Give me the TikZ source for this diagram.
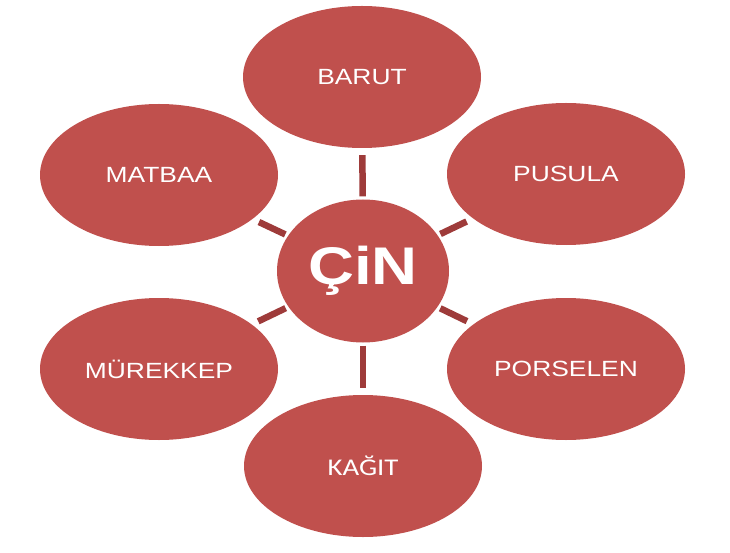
\documentclass[tikz,border=0pt]{standalone}
\usepackage{fontspec}
\usepackage{tikz}
\usetikzlibrary{positioning,shapes.geometric}
\newfontfamily\leaffont[FakeStretch=1.2]{Liberation Sans}
\newfontfamily\kagitfont[FakeStretch=1.2]{Carlito}
\definecolor{petal}{HTML}{C0504D}
\definecolor{stem}{HTML}{9E3B3A}
\begin{document}
\begin{tikzpicture}[
x=1pt, y=-1pt, node distance=194pt,
leaf/.style={ellipse, fill=petal, text=white, inner sep=0pt, minimum width=238pt, minimum height=142pt, font=\leaffont\fontsize{22}{26}\selectfont},
hub/.style={ellipse, fill=petal, text=white, inner sep=0pt, minimum width=172pt, minimum height=143pt, font=\leaffont\bfseries\fontsize{53}{60}\selectfont},
link/.style={draw=stem, line width=6.5pt, shorten <=3pt, shorten >=7pt}
]
\useasboundingbox (0,0) rectangle (730,553);
%Nodes
\node[hub]       (cin)      at (363,271)                              {ÇiN};
\node[leaf]      (barut)    [above of=cin, xshift=-1pt]               {BARUT};
\node[leaf]      (kagit)    [below of=cin, yshift=-1pt, font=\kagitfont\fontsize{24}{28}\selectfont] {KAĞIT};
\node[leaf]      (matbaa)   [left of=cin, xshift=-10pt, yshift=96pt]  {MATBAA};
\node[leaf]      (pusula)   [right of=cin, xshift=9pt, yshift=97pt]   {PUSULA};
\node[leaf]      (murekkep) [left of=cin, xshift=-10pt, yshift=-98pt] {MÜREKKEP};
\node[leaf]      (porselen) [right of=cin, xshift=9pt, yshift=-98pt]  {PORSELEN};
%Lines
\draw[link] (cin) -- (barut);
\draw[link] (cin) -- (pusula);
\draw[link] (cin) -- (porselen);
\draw[link] (cin) -- (kagit);
\draw[link] (cin) -- (murekkep);
\draw[link] (cin) -- (matbaa);
\end{tikzpicture}
\end{document}
